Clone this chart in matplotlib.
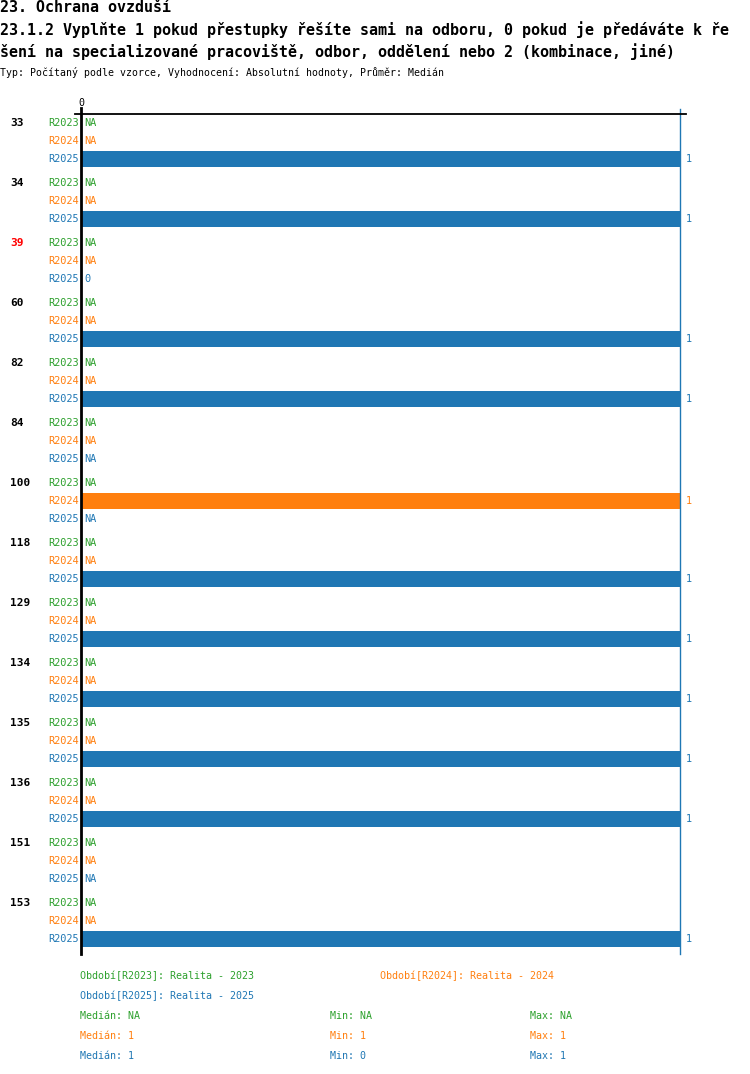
import matplotlib
matplotlib.use("Agg")
import matplotlib.pyplot as plt
import numpy as np

# ---- data ----
groups = ["33", "34", "39", "60", "82", "84", "100", "118", "129", "134", "135", "136", "151", "153"]
highlight = ["39"]
series = ["R2023", "R2024", "R2025"]
NA = None
r2023 = [NA] * 14
r2024 = [NA, NA, NA, NA, NA, NA, 1, NA, NA, NA, NA, NA, NA, NA]
r2025 = [1, 1, 0, 1, 1, NA, NA, 1, 1, 1, 1, 1, NA, 1]
values = [r2023, r2024, r2025]
colors = ["#2ca02c", "#ff7f0e", "#1f77b4"]
title1 = "23. Ochrana ovzduší"
title2 = "23.1.2 Vyplňte 1 pokud přestupky řešíte sami na odboru, 0 pokud je předáváte k ře"
title3 = "šení na specializované pracoviště, odbor, oddělení nebo 2 (kombinace, jiné)"
subtitle = "Typ: Počítaný podle vzorce, Vyhodnocení: Absolutní hodnoty, Průměr: Medián"
legend_names = ["Období[R2023]: Realita - 2023", "Období[R2024]: Realita - 2024", "Období[R2025]: Realita - 2025"]
stats_median = ["NA", "1", "1"]
stats_min = ["NA", "1", "0"]
stats_max = ["NA", "1", "1"]

W, H = 750, 1074
fig = plt.figure(figsize=(W / 100, H / 100), dpi=100)
mono = "DejaVu Sans Mono"

def fx(px):
    return px / W

def fy(py):
    return 1 - py / H

# axes: x 0 at px 81, 1 at px 680; y in pixel rows from 108 to 954
ax_left, ax_right, ax_top, ax_bot = 81, 680, 108, 954
ax = fig.add_axes([fx(ax_left), fy(ax_bot), (ax_right - ax_left) / W, (ax_bot - ax_top) / H])
ax.set_xlim(0, 1)
ax.set_ylim(ax_bot, ax_top)
ax.set_xticks([])
ax.set_yticks([])
for s in ["top", "bottom"]:
    ax.spines[s].set_visible(False)
ax.spines["left"].set_color("black")
ax.spines["left"].set_linewidth(2)
ax.spines["right"].set_color("#1f77b4")
ax.spines["right"].set_linewidth(1)
ax.spines["right"].set_bounds(109, ax_bot)
ax.patch.set_alpha(0)

# top horizontal line
fig.add_artist(plt.Line2D([fx(75), fx(686)], [fy(114), fy(114)], color="black", lw=1.3))
fig.text(fx(81), fy(103), "0", fontsize=7.2, family=mono, ha="center", va="center")

row0, gstep, rstep = 123, 60, 18
for gi, g in enumerate(groups):
    gy = row0 + gi * gstep
    fig.text(fx(10), fy(gy), g, fontsize=8, family=mono, weight="bold",
             color="red" if g in highlight else "black", ha="left", va="center")
    for si, s in enumerate(series):
        y = gy + si * rstep
        c = colors[si]
        fig.text(fx(79), fy(y), s, fontsize=7.4, family=mono, color=c, ha="right", va="center")
        v = values[si][gi]
        if v is None:
            ax.text(0.005, y, "NA", fontsize=7.4, family=mono, color=c, ha="left", va="center")
        else:
            if v > 0:
                ax.barh(y, v, height=16, color=c, left=0)
                ax.text(v + 0.01, y, str(v), fontsize=7.4, family=mono, color=c, ha="left", va="center")
            else:
                ax.text(0.005, y, str(v), fontsize=7.4, family=mono, color=c, ha="left", va="center")

# titles
fig.text(fx(0), fy(8), title1, fontsize=10.8, family=mono, weight="bold", ha="left", va="center")
fig.text(fx(0), fy(30), title2, fontsize=10.8, family=mono, weight="bold", ha="left", va="center")
fig.text(fx(0), fy(52), title3, fontsize=10.8, family=mono, weight="bold", ha="left", va="center")
fig.text(fx(0), fy(73), subtitle, fontsize=7.1, family=mono, ha="left", va="center")

# legend
fs = 7.2
fig.text(fx(80), fy(976), legend_names[0], fontsize=fs, family=mono, color=colors[0], ha="left", va="center")
fig.text(fx(380), fy(976), legend_names[1], fontsize=fs, family=mono, color=colors[1], ha="left", va="center")
fig.text(fx(80), fy(996), legend_names[2], fontsize=fs, family=mono, color=colors[2], ha="left", va="center")
for i in range(3):
    y = 1016 + 20 * i
    fig.text(fx(80), fy(y), "Medián: " + stats_median[i], fontsize=fs, family=mono, color=colors[i], ha="left", va="center")
    fig.text(fx(330), fy(y), "Min: " + stats_min[i], fontsize=fs, family=mono, color=colors[i], ha="left", va="center")
    fig.text(fx(530), fy(y), "Max: " + stats_max[i], fontsize=fs, family=mono, color=colors[i], ha="left", va="center")

fig.savefig("out.png", dpi=100)
